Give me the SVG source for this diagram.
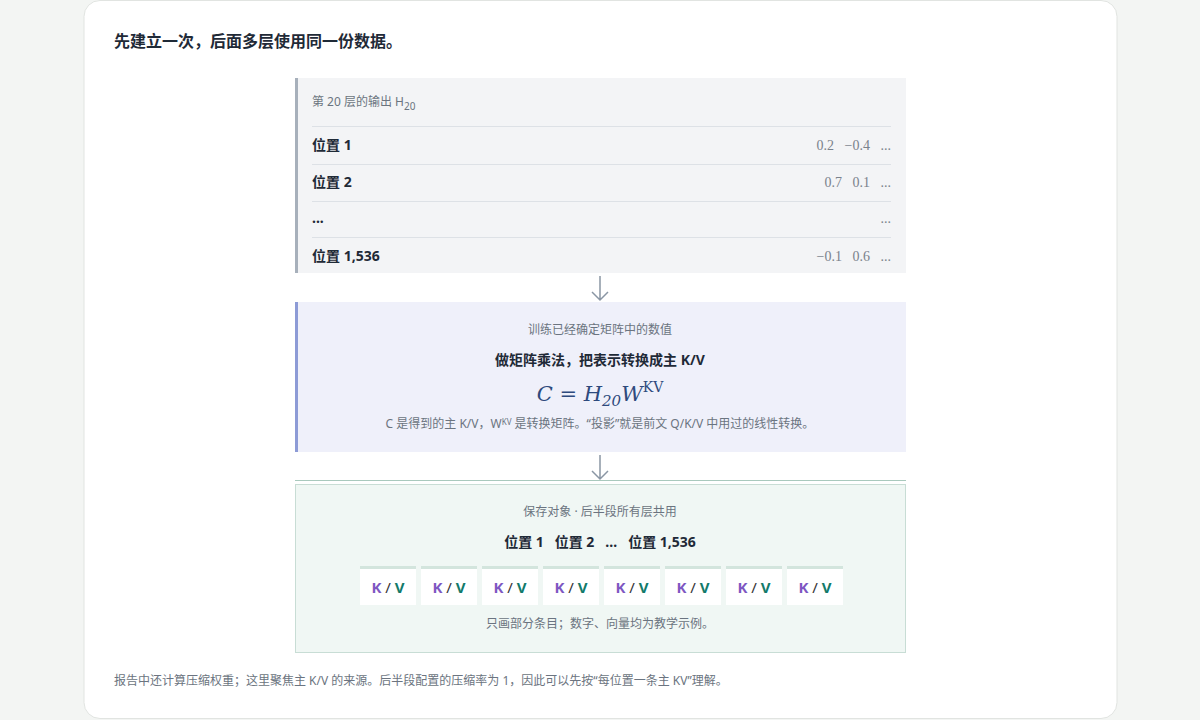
<svg xmlns="http://www.w3.org/2000/svg" width="1200" height="720" viewBox="0 0 1200 720">
<style>
text{font-family:"Noto Sans","Noto Sans CJK SC",sans-serif}
.t{font-size:14px;fill:#1f2a37;font-weight:700}
.g{font-size:12px;fill:#6b7480}
.n{font-family:"Liberation Serif","DejaVu Serif",serif;font-size:14px;fill:#7a828c}
.rule{stroke:#dde1e6;stroke-width:1}
.kvb{fill:#ffffff}
.kvt{fill:#d3e5dd}
.k{fill:#7e57c2;font-weight:700;font-size:15px}
.v{fill:#127a6a;font-weight:700;font-size:15px}
.sl{fill:#333;font-size:15px}
.arr{stroke:#8a96a4;stroke-width:1.5;fill:none}
</style>
<rect width="1200" height="720" fill="#f3f5f3"/>
<rect x="84" y="0.5" width="1033" height="718" rx="16" fill="#fff" stroke="#e1e4e1"/>
<text x="114" y="47" font-size="16" font-weight="700" fill="#1f2a37">先建立一次，后面多层使用同一份数据。</text>
<g id="connectors">
<path class="arr" d="M600 276V300M592 292L600 300L608 292"/>
<path class="arr" d="M600 455V479M592 471L600 479L608 471"/>
</g>
<g id="h20">
<rect x="295" y="78" width="611" height="195" fill="#f3f4f6"/>
<rect x="295" y="78" width="3" height="195" fill="#a7b0bb"/>
<text x="312" y="106" class="g" font-size="13">第 20 层的输出 H<tspan font-size="10" dy="4">20</tspan></text>
<line class="rule" x1="312" y1="126.5" x2="891" y2="126.5"/>
<line class="rule" x1="312" y1="164.5" x2="891" y2="164.5"/>
<line class="rule" x1="312" y1="201.5" x2="891" y2="201.5"/>
<line class="rule" x1="312" y1="237.5" x2="891" y2="237.5"/>
<text x="312" y="150" class="t">位置 1</text>
<text x="312" y="187" class="t">位置 2</text>
<text x="312" y="223" class="t">...</text>
<text x="312" y="261" class="t">位置 1,536</text>
<text x="891" y="150" class="n" text-anchor="end" xml:space="preserve">0.2   −0.4   ...</text>
<text x="891" y="187" class="n" text-anchor="end" xml:space="preserve">0.7   0.1   ...</text>
<text x="891" y="223" class="n" text-anchor="end">...</text>
<text x="891" y="261" class="n" text-anchor="end" xml:space="preserve">−0.1   0.6   ...</text>
</g>
<g id="proj">
<rect x="295" y="302" width="611" height="150" fill="#eff0fa"/>
<rect x="295" y="302" width="3" height="150" fill="#8d9bd6"/>
<text x="600" y="334" class="g" text-anchor="middle" font-size="11.5">训练已经确定矩阵中的数值</text>
<text x="600" y="365" class="t" text-anchor="middle" font-size="16">做矩阵乘法，把表示转换成主 K/V</text>
<text x="600" y="401" text-anchor="middle" font-style="italic" font-size="21" fill="#2e4a7d" style="font-family:'DejaVu Serif',serif">C = H<tspan font-size="15" dy="5">20</tspan><tspan dy="-5">W</tspan><tspan font-size="14" dy="-9" font-style="normal">KV</tspan></text>
<text x="600" y="428" class="g" text-anchor="middle" font-size="13">C 是得到的主 K/V，W<tspan font-size="8" dy="-3">KV</tspan><tspan dy="3"> 是转换矩阵。“投影”就是前文 Q/K/V 中用过的线性转换。</tspan></text>
</g>
<g id="store">
<rect x="295.5" y="484.5" width="610" height="168" fill="#f0f7f4" stroke="#c8ddd5"/>
<line x1="295" y1="480.5" x2="906" y2="480.5" stroke="#a9c9bd"/>
<text x="600" y="516" class="g" text-anchor="middle" font-size="11.5">保存对象 · 后半段所有层共用</text>
<text x="600" y="547" class="t" text-anchor="middle" font-size="16" xml:space="preserve">位置 1   位置 2   …   位置 1,536</text>
<g id="kv">
<rect class="kvt" x="360" y="566" width="56" height="3"/><rect class="kvb" x="360" y="569" width="56" height="36"/>
<rect class="kvt" x="421" y="566" width="56" height="3"/><rect class="kvb" x="421" y="569" width="56" height="36"/>
<rect class="kvt" x="482" y="566" width="56" height="3"/><rect class="kvb" x="482" y="569" width="56" height="36"/>
<rect class="kvt" x="543" y="566" width="56" height="3"/><rect class="kvb" x="543" y="569" width="56" height="36"/>
<rect class="kvt" x="604" y="566" width="56" height="3"/><rect class="kvb" x="604" y="569" width="56" height="36"/>
<rect class="kvt" x="665" y="566" width="56" height="3"/><rect class="kvb" x="665" y="569" width="56" height="36"/>
<rect class="kvt" x="726" y="566" width="56" height="3"/><rect class="kvb" x="726" y="569" width="56" height="36"/>
<rect class="kvt" x="787" y="566" width="56" height="3"/><rect class="kvb" x="787" y="569" width="56" height="36"/>
<text x="388" y="593" text-anchor="middle"><tspan class="k">K</tspan><tspan class="sl"> / </tspan><tspan class="v">V</tspan></text>
<text x="449" y="593" text-anchor="middle"><tspan class="k">K</tspan><tspan class="sl"> / </tspan><tspan class="v">V</tspan></text>
<text x="510" y="593" text-anchor="middle"><tspan class="k">K</tspan><tspan class="sl"> / </tspan><tspan class="v">V</tspan></text>
<text x="571" y="593" text-anchor="middle"><tspan class="k">K</tspan><tspan class="sl"> / </tspan><tspan class="v">V</tspan></text>
<text x="632" y="593" text-anchor="middle"><tspan class="k">K</tspan><tspan class="sl"> / </tspan><tspan class="v">V</tspan></text>
<text x="693" y="593" text-anchor="middle"><tspan class="k">K</tspan><tspan class="sl"> / </tspan><tspan class="v">V</tspan></text>
<text x="754" y="593" text-anchor="middle"><tspan class="k">K</tspan><tspan class="sl"> / </tspan><tspan class="v">V</tspan></text>
<text x="815" y="593" text-anchor="middle"><tspan class="k">K</tspan><tspan class="sl"> / </tspan><tspan class="v">V</tspan></text>
</g>
<text x="600" y="628" class="g" text-anchor="middle" font-size="13">只画部分条目；数字、向量均为教学示例。</text>
</g>
<text x="114" y="685" class="g" font-size="13">报告中还计算压缩权重；这里聚焦主 K/V 的来源。后半段配置的压缩率为 1，因此可以先按“每位置一条主 KV”理解。</text>
</svg>
